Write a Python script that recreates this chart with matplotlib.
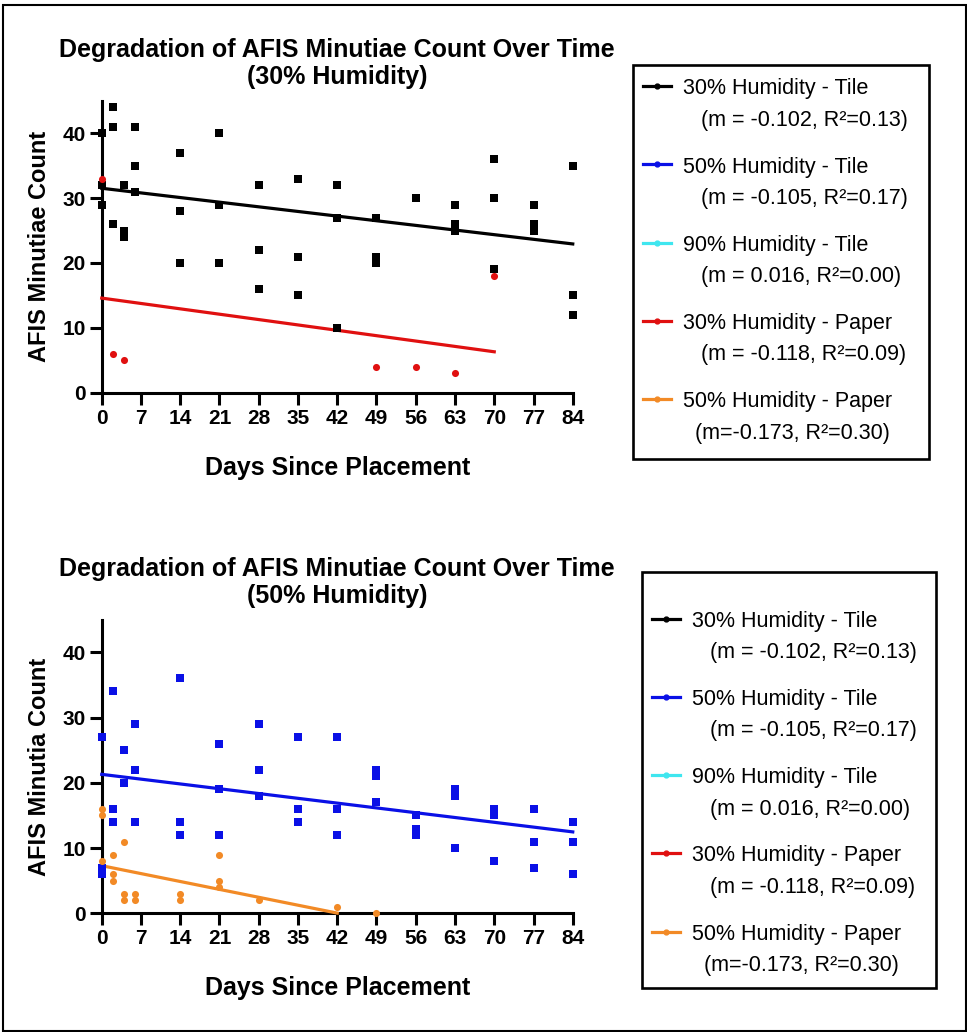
import numpy as np
import matplotlib
matplotlib.use("Agg")
import matplotlib.pyplot as plt
from matplotlib.lines import Line2D
from matplotlib.legend_handler import HandlerLine2D
from matplotlib.patches import Rectangle

plt.rcParams['font.family'] = ['Liberation Sans', 'DejaVu Sans']
plt.rcParams['font.weight'] = 'bold'

# --- data ---
days_t30 = [0, 0, 0, 2, 2, 2, 4, 4, 4, 6, 6, 6, 14, 14, 14, 21, 21, 21, 28, 28, 28,
            35, 35, 35, 42, 42, 42, 49, 49, 49, 56, 63, 63, 63, 70, 70, 70, 77, 77, 77, 84, 84, 84]
count_t30 = [40, 32, 29, 44, 41, 26, 32, 25, 24, 41, 35, 31, 37, 28, 20, 40, 29, 20, 32, 22, 16,
             33, 21, 15, 32, 27, 10, 27, 21, 20, 30, 29, 26, 25, 36, 30, 19, 29, 26, 25, 35, 15, 12]

days_p30 = [0, 2, 4, 49, 56, 63, 70]
count_p30 = [33, 6, 5, 4, 4, 3, 18]

days_t50 = [0, 0, 0, 2, 2, 2, 4, 4, 6, 6, 6, 14, 14, 14, 21, 21, 21, 28, 28, 28,
            35, 35, 35, 42, 42, 42, 49, 49, 49, 56, 56, 56, 63, 63, 63, 70, 70, 70, 77, 77, 77, 84, 84, 84]
count_t50 = [27, 7, 6, 34, 16, 14, 25, 20, 29, 22, 14, 36, 14, 12, 26, 19, 12, 29, 22, 18,
             27, 16, 14, 27, 16, 12, 22, 21, 17, 15, 13, 12, 19, 18, 10, 16, 15, 8, 16, 11, 7, 14, 11, 6]

days_p50 = [0, 0, 0, 2, 2, 2, 4, 4, 4, 6, 6, 14, 14, 21, 21, 21, 28, 42, 49]
count_p50 = [16, 15, 8, 9, 6, 5, 11, 3, 2, 3, 2, 3, 2, 9, 5, 4, 2, 1, 0]

# regression lines: intercept, slope (from legend), last day
fit_t30 = (31.5, -0.102, 84)
fit_p30 = (14.6, -0.118, 70)
fit_t50 = (21.3, -0.105, 84)
fit_p50 = (7.3, -0.173, 42)

legend_names = ["30% Humidity - Tile\n   (m = -0.102, R²=0.13)",
                "50% Humidity - Tile\n   (m = -0.105, R²=0.17)",
                "90% Humidity - Tile\n   (m = 0.016, R²=0.00)",
                "30% Humidity - Paper\n   (m = -0.118, R²=0.09)",
                "50% Humidity - Paper\n  (m=-0.173, R²=0.30)"]

c_black = 'black'
c_blue = '#0a10e6'
c_cyan = '#3fe6ef'
c_red = '#e01010'
c_orange = '#f28a26'
legend_colors = [c_black, c_blue, c_cyan, c_red, c_orange]

xticks = np.arange(0, 85, 7)
yticks = [0, 10, 20, 30, 40]

LEG_FS = 15.5
LEG_LS = 1.65


class FirstLineHandler(HandlerLine2D):
    # put the legend handle on the first line of a two-line label
    def create_artists(self, legend, orig_handle, xdescent, ydescent, width, height, fontsize, trans):
        arts = super().create_artists(legend, orig_handle, xdescent, ydescent, width, height, fontsize, trans)
        shift = 0.5 * 0.86 * LEG_LS * fontsize + 2.5
        for a in arts:
            a.set_ydata(np.asarray(a.get_ydata(), dtype=float) + shift)
        return arts


def fit_line(ax, fit, color):
    b, m, xend = fit
    xx = np.array([0, xend])
    ax.plot(xx, b + m * xx, color=color, lw=2.3, zorder=3, clip_on=False)


def style_axes(ax, title, ylabel):
    ax.set_xlim(0, 84)
    ax.set_ylim(0, 45)
    ax.set_xticks(xticks)
    ax.set_yticks(yticks)
    for s in ['top', 'right']:
        ax.spines[s].set_visible(False)
    for s in ['left', 'bottom']:
        ax.spines[s].set_linewidth(2.2)
    ax.tick_params(length=8.5, width=2.2, labelsize=15, pad=3)
    ax.set_title(title, fontsize=18, fontweight='bold', pad=12, linespacing=1.15)
    ax.set_ylabel(ylabel, fontsize=17, fontweight='bold', labelpad=8)
    ax.set_xlabel("Days Since Placement", fontsize=18, fontweight='bold', labelpad=20)


def add_legend(fig, bbox, yoff):
    handles = [Line2D([], [], color=c, lw=2.3, marker='o', ms=3.5) for c in legend_colors]
    x0, y0, w, h = bbox
    leg = fig.legend(handles, legend_names, loc='center left', bbox_to_anchor=(x0, y0 + yoff, w, h),
                     bbox_transform=fig.transFigure, borderaxespad=0,
                     prop={'size': LEG_FS, 'weight': 'normal', 'family': 'Liberation Sans'},
                     frameon=False, borderpad=0.47, labelspacing=1.2,
                     handlelength=1.3, handletextpad=0.55,
                     handler_map={Line2D: FirstLineHandler()})
    for t in leg.get_texts():
        t.set_linespacing(LEG_LS)
    # box around the legend
    fig.patches.append(Rectangle((x0, y0), w, h, transform=fig.transFigure,
                                 fill=False, edgecolor='black', lw=1.9, zorder=5))
    return leg


fig = plt.figure(figsize=(9.67, 10.32), dpi=100)

ax1 = fig.add_axes([0.1052, 0.6192, 0.4871, 0.2834])
ax1.scatter(days_t30, count_t30, marker='s', s=30, color=c_black, zorder=4, clip_on=False, linewidths=0)
ax1.scatter(days_p30, count_p30, marker='o', s=26, color=c_red, zorder=4, clip_on=False, linewidths=0)
fit_line(ax1, fit_t30, c_black)
fit_line(ax1, fit_p30, c_red)
style_axes(ax1, "Degradation of AFIS Minutiae Count Over Time\n(30% Humidity)", "AFIS Minutiae Count")

ax2 = fig.add_axes([0.1052, 0.115, 0.4871, 0.2845])
ax2.scatter(days_t50, count_t50, marker='s', s=30, color=c_blue, zorder=4, clip_on=False, linewidths=0)
ax2.scatter(days_p50, count_p50, marker='o', s=26, color=c_orange, zorder=4, clip_on=False, linewidths=0)
fit_line(ax2, fit_t50, c_blue)
fit_line(ax2, fit_p50, c_orange)
style_axes(ax2, "Degradation of AFIS Minutiae Count Over Time\n(50% Humidity)", "AFIS Minutia Count")

add_legend(fig, (0.6546, 0.5552, 0.3061, 0.3818), 0.001)
add_legend(fig, (0.6639, 0.0426, 0.3041, 0.4031), -0.013)

# outer frame
fig.patches.append(Rectangle((0.0026, 0.001), 0.996, 0.9942, transform=fig.transFigure,
                             fill=False, edgecolor='black', lw=1.5))

fig.savefig("out.png", dpi=100)
